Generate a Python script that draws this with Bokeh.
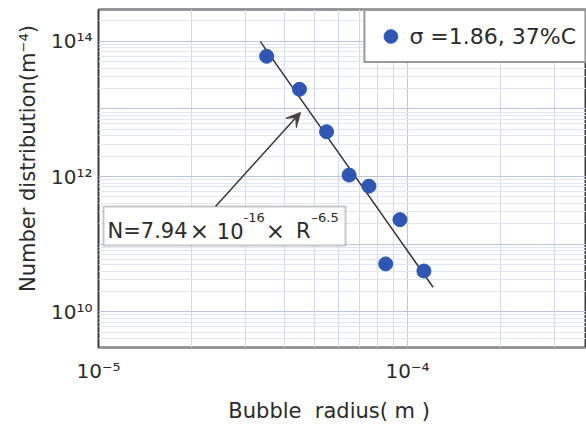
import numpy as np
from bokeh.plotting import figure
from bokeh.models import (Label, FixedTicker, Arrow, VeeHead, BoxAnnotation, Range1d)
from bokeh.embed import file_html
from bokeh.resources import INLINE

# ---- data ----
radius = [3.5e-5, 4.47e-5, 5.47e-5, 6.47e-5, 7.5e-5, 9.45e-5, 8.5e-5, 1.13e-4]
number = [6.0e13, 1.95e13, 4.6e12, 1.05e12, 7.2e11, 2.3e11, 5.1e10, 4.0e10]
fit_coef = 7.94e-16
fit_exp = -6.5
fit_r = [3.34e-5, 1.21e-4]
x_tick_exps = [-5, -4]
x_tick_labels = ["10\u207b\u2075", "10\u207b\u2074"]
y_tick_exps = [10, 12, 14]
y_tick_labels = ["10\u00b9\u2070", "10\u00b9\u00b2", "10\u00b9\u2074"]
legend_text = "σ =1.86, 37%C"
x_title = "Bubble \u00a0radius( m )" + "\u00a0" * 4
y_title = "\u00a0" * 6 + "Number distribution(m\u207b\u2074)"

FONT = "DejaVu Sans"
TXT = "#2b2b2b"

x_major = [10.0 ** e for e in range(-5, -2)]
x_minor = [m * 10.0 ** e for e in range(-5, -3) for m in range(2, 10)]
y_major = [10.0 ** e for e in range(9, 15)]
y_minor = [m * 10.0 ** e for e in range(9, 15) for m in range(2, 10)]

p = figure(width=586, height=425, x_axis_type="log", y_axis_type="log",
           x_range=Range1d(1e-5, 3.795e-4), y_range=Range1d(2.955e9, 2.955e14),
           output_backend="svg", toolbar_location=None,
           min_border_left=98, min_border_right=0, min_border_top=9,
           min_border_bottom=76)
p.background_fill_color = "white"
p.border_fill_color = "white"
p.outline_line_color = "#3a3a3a"
p.outline_line_width = 2

x_ticks = [10.0 ** e for e in x_tick_exps]
y_ticks = [10.0 ** e for e in y_tick_exps]
p.xaxis.ticker = FixedTicker(ticks=x_ticks, minor_ticks=[])
p.yaxis.ticker = FixedTicker(ticks=y_ticks, minor_ticks=[])
p.xaxis.major_label_overrides = dict(zip(x_ticks, x_tick_labels))
p.yaxis.major_label_overrides = dict(zip(y_ticks, y_tick_labels))
p.xgrid.ticker = FixedTicker(ticks=x_major, minor_ticks=x_minor)
p.ygrid.ticker = FixedTicker(ticks=y_major, minor_ticks=y_minor)

for ax in p.axis:
    ax.axis_line_color = None
    ax.major_tick_line_color = None
    ax.minor_tick_line_color = None
    ax.major_tick_in = 0
    ax.major_tick_out = 0
    ax.minor_tick_in = 0
    ax.minor_tick_out = 0
    ax.major_label_text_font = FONT
    ax.major_label_text_font_size = "20px"
    ax.major_label_text_color = TXT
    ax.axis_label_text_font = FONT
    ax.axis_label_text_font_size = "21px"
    ax.axis_label_text_font_style = "normal"
    ax.axis_label_text_color = TXT

p.xaxis.axis_label = x_title
p.yaxis.axis_label = y_title
p.xaxis.major_label_standoff = 11
p.xaxis.axis_label_standoff = 13
p.yaxis.major_label_standoff = 6
p.yaxis.axis_label_standoff = 8

p.xgrid.grid_line_color = "#bcc5de"
p.xgrid.minor_grid_line_color = "#d0d9ee"
p.ygrid.grid_line_color = "#bcc5de"
p.ygrid.minor_grid_line_color = "#e0e6f2"

# fit line N = 7.94e-16 * R^-6.5
fit_n = [fit_coef * r ** fit_exp for r in fit_r]
p.line(fit_r, fit_n, line_color="#333333", line_width=1.5)

p.scatter(radius, number, size=14, fill_color="#2d56b5", line_color="#2d56b5",
          legend_label=legend_text)

leg = p.legend[0]
leg.location = "top_right"
leg.margin = 0
leg.padding = 8
leg.spacing = 0
leg.glyph_width = 34
leg.glyph_height = 34
leg.label_height = 34
leg.label_standoff = 2
leg.label_text_font = FONT
leg.label_text_font_size = "22px"
leg.label_text_color = TXT
leg.border_line_color = "#333333"
leg.border_line_width = 2
leg.background_fill_alpha = 1.0

def lab(**kw):
    base = dict(text_font=FONT, text_color=TXT, text_baseline="middle",
                x_units="screen", y_units="screen")
    base.update(kw)
    p.add_layout(Label(**base))

# formula box (positions in px from the frame's bottom-left)
p.add_layout(BoxAnnotation(left=5, right=247, top=141, bottom=102,
                           left_units="screen", right_units="screen",
                           top_units="screen", bottom_units="screen",
                           fill_color="white", fill_alpha=1.0,
                           line_color="#444444", line_width=2))
lab(x=9, y=117, text="N=7.94", text_align="left", text_font_size="21px")
lab(x=101, y=117, text="\u00d7", text_align="center", text_font_size="23px")
lab(x=145, y=117, text="10", text_align="right", text_font_size="21px")
lab(x=145, y=130, text="-16", text_align="left", text_font_size="13px")
lab(x=177, y=117, text="\u00d7", text_align="center", text_font_size="23px")
lab(x=212, y=117, text="R", text_align="right", text_font_size="21px")
lab(x=213, y=130, text="\u2013" + "6.5", text_align="left", text_font_size="13px")

p.add_layout(Arrow(x_start=117, y_start=141, x_end=202, y_end=235,
                   start_units="screen", end_units="screen",
                   line_color="#3a3a3a", line_width=1.5,
                   end=VeeHead(size=14, fill_color="#4a3f3f",
                               line_color="#4a3f3f")))

open("out.html", "w").write(file_html(p, INLINE))
